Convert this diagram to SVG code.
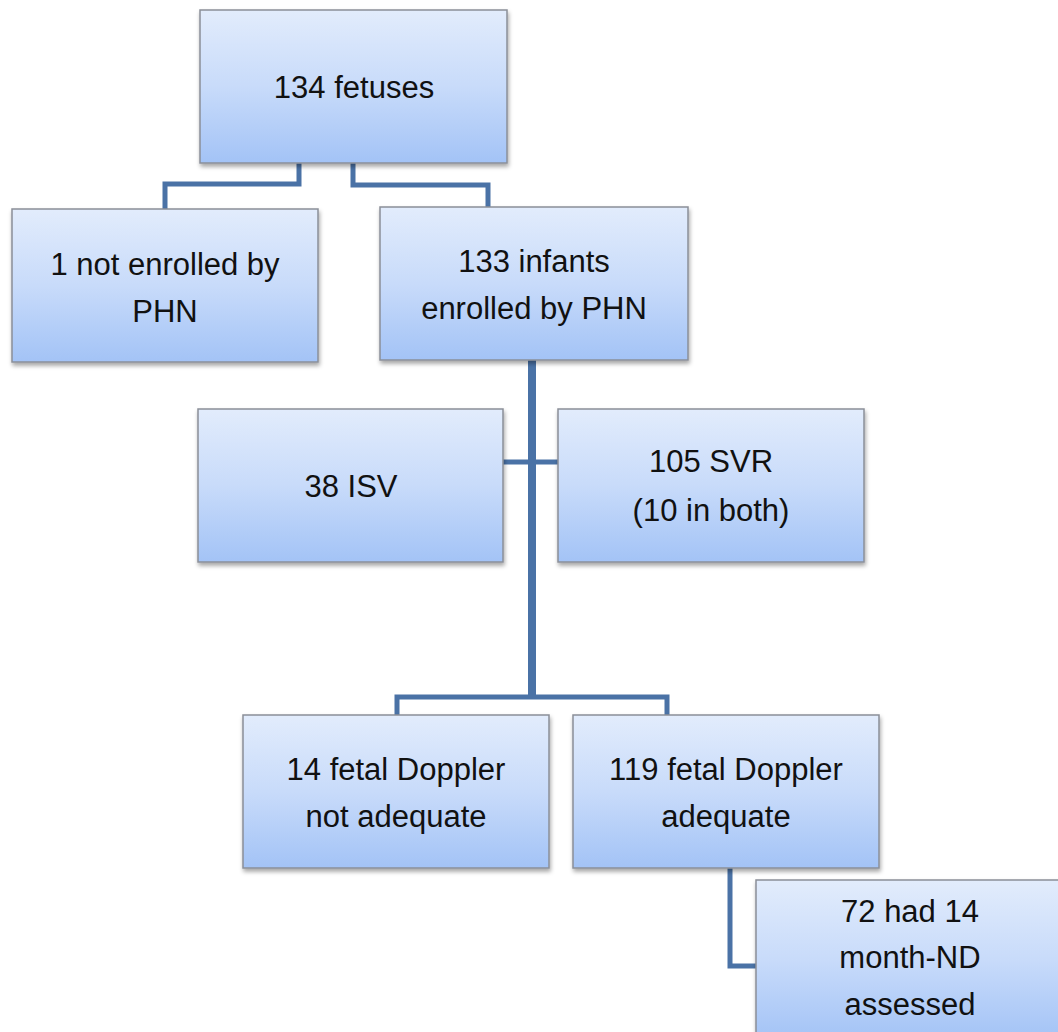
<svg xmlns="http://www.w3.org/2000/svg" width="1058" height="1032" viewBox="0 0 1058 1032">
<defs>
<linearGradient id="g" x1="0" y1="0" x2="0" y2="1">
<stop offset="0" stop-color="#e2ecfc"/>
<stop offset="0.5" stop-color="#c8dbfa"/>
<stop offset="1" stop-color="#a3c3f6"/>
</linearGradient>
<filter id="sh" x="-5%" y="-5%" width="115%" height="120%">
<feDropShadow dx="1" dy="3" stdDeviation="2" flood-color="#000" flood-opacity="0.35"/>
</filter>
</defs>
<style>
.box{fill:url(#g);stroke:#8a8f98;stroke-width:1.5;filter:url(#sh)}
.t{font-family:"Liberation Sans",Arial,sans-serif;font-size:31px;fill:#111;text-anchor:middle}
.c{fill:none;stroke:#4a72a6;stroke-width:5;stroke-linejoin:miter}
</style>
<g id="connectors">
<polyline class="c" points="299,163 299,184 165,184 165,209"/>
<polyline class="c" points="353,163 353,185 488,185 488,207"/>
<line class="c" x1="532" y1="360" x2="532" y2="697" style="stroke-width:8"/>
<line class="c" x1="503" y1="462" x2="558" y2="462"/>
<polyline class="c" points="397,715 397,697 667,697 667,715"/>
<polyline class="c" points="730,868 730,966 756,966"/>
</g>
<g id="n1"><rect class="box" x="200" y="10" width="307" height="153"/><text class="t" x="354" y="98">134 fetuses</text></g>
<g id="n2"><rect class="box" x="12" y="209" width="306" height="153"/><text class="t" x="165" y="275">1 not enrolled by</text><text class="t" x="165" y="322">PHN</text></g>
<g id="n3"><rect class="box" x="380" y="207" width="308" height="153"/><text class="t" x="534" y="272">133 infants</text><text class="t" x="534" y="319">enrolled by PHN</text></g>
<g id="n4"><rect class="box" x="198" y="409" width="305" height="153"/><text class="t" x="351" y="497">38 ISV</text></g>
<g id="n5"><rect class="box" x="558" y="409" width="306" height="153"/><text class="t" x="711" y="472">105 SVR</text><text class="t" x="711" y="521">(10 in both)</text></g>
<g id="n6"><rect class="box" x="243" y="715" width="306" height="153"/><text class="t" x="396" y="780">14 fetal Doppler</text><text class="t" x="396" y="827">not adequate</text></g>
<g id="n7"><rect class="box" x="573" y="715" width="306" height="153"/><text class="t" x="726" y="780">119 fetal Doppler</text><text class="t" x="726" y="827">adequate</text></g>
<g id="n8"><rect class="box" x="756" y="880" width="310" height="160"/><text class="t" x="910" y="922">72 had 14</text><text class="t" x="910" y="968">month-ND</text><text class="t" x="910" y="1015">assessed</text></g>
</svg>
